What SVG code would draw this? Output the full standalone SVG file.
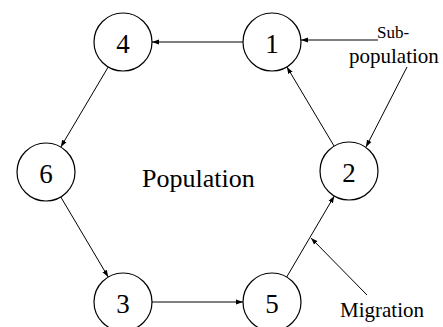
<svg xmlns="http://www.w3.org/2000/svg" width="443" height="327" viewBox="0 0 443 327">
<style>
.node circle{fill:#fff;stroke:#000;stroke-width:1.2}
.num{font-size:27px;text-anchor:middle;fill:#000}
.lbl{fill:#000}
#edges line{stroke:#000;stroke-width:1;marker-end:url(#ah)}
</style>
<defs>
<marker id="ah" markerUnits="userSpaceOnUse" markerWidth="8" markerHeight="6" refX="7" refY="3" orient="auto">
<path d="M0,0.5 L7,3 L0,5.5 Z" fill="#000"/>
</marker>
</defs>
<rect width="443" height="327" fill="#fff"/>
<g id="edges">
<line x1="243" y1="42" x2="152" y2="42"/>
<line x1="108.2" y1="67" x2="60.8" y2="147"/>
<line x1="60.8" y1="197" x2="108.2" y2="277"/>
<line x1="152" y1="302" x2="243" y2="302"/>
<line x1="286.7" y1="277" x2="334.3" y2="196"/>
<line x1="334.1" y1="146.1" x2="286.9" y2="66.9"/>
<line x1="378" y1="40" x2="301" y2="40"/>
<line x1="407" y1="67" x2="366" y2="147"/>
<line x1="367" y1="295" x2="311" y2="238"/>
</g>
<g font-family="'Liberation Serif', 'Times New Roman', 'DejaVu Serif', serif">
<g id="node1" class="node"><circle cx="272" cy="42" r="29"/><text class="num" x="272" y="53">1</text></g>
<g id="node4" class="node"><circle cx="123" cy="42" r="29"/><text class="num" x="123" y="53">4</text></g>
<g id="node6" class="node"><circle cx="46" cy="172" r="29"/><text class="num" x="46" y="183">6</text></g>
<g id="node2" class="node"><circle cx="349" cy="171" r="29"/><text class="num" x="349" y="182">2</text></g>
<g id="node3" class="node"><circle cx="123" cy="302" r="29"/><text class="num" x="123" y="313">3</text></g>
<g id="node5" class="node"><circle cx="272" cy="302" r="29"/><text class="num" x="272" y="313">5</text></g>
<g id="labels">
<text class="lbl" x="142" y="187" font-size="26">Population</text>
<text class="lbl" x="377" y="38" font-size="17">Sub-</text>
<text class="lbl" x="349" y="63" font-size="21">population</text>
<text class="lbl" x="340" y="317" font-size="21">Migration</text>
</g>
</g>
</svg>
